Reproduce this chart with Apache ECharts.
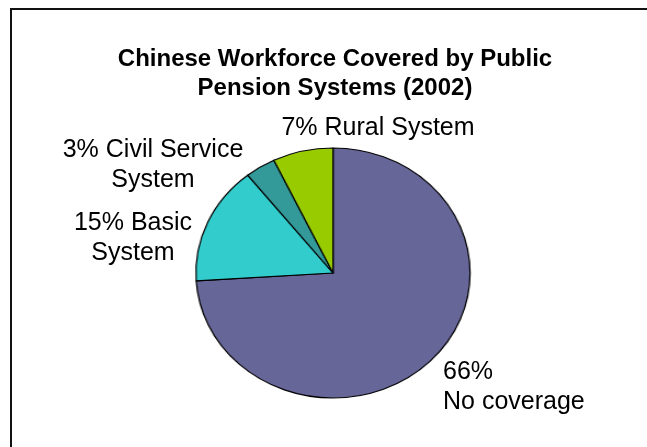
<!DOCTYPE html>
<html>
<head>
<meta charset="utf-8">
<script src="https://cdn.jsdelivr.net/npm/echarts@6/dist/echarts.min.js"></script>
<style>
	html, body { margin: 0; padding: 0; background: #fff; }
	#wrap { position: relative; width: 647px; height: 447px; overflow: hidden; }
	/* the pie in the picture is a bit wider than tall, so it is stretched */
	#pie { position: absolute; left: 0; top: 0; width: 590px; height: 447px; transform-origin: 0 0; transform: scaleX(1.0966); }
	#main { position: absolute; left: 0; top: 0; width: 647px; height: 447px; }
</style>
</head>
<body>
<div id="wrap">
	<div id="pie"></div>
	<div id="main"></div>
</div>
<script>
var categories = ['No coverage', 'Basic System', 'Civil Service System', 'Rural System'];
// printed percentages
var percents = [66, 15, 3, 7];
// slice sizes as drawn (share of the circle)
var shares = [74.0, 15.3, 3.6, 7.1];
var labelTexts = ['66%\nNo coverage', '15% Basic\nSystem', '3% Civil Service\nSystem', '7% Rural System'];
var colors = ['#666699', '#33cccc', '#339999', '#99cc00'];

// label placement (x, top y, alignment)
var labelX = [443, 133, 153, 378];
var labelY = [357, 208, 135, 113];
var labelAlign = ['left', 'center', 'center', 'center'];

var sx = 1.0966;

function pieData(transparent) {
	var data = [];
	for (var i = 0; i < categories.length; i++) {
		data.push({
			name: categories[i],
			value: shares[i],
			itemStyle: transparent ? { color: 'rgba(0,0,0,0)', borderWidth: 0 } : { color: colors[i] }
		});
	}
	return data;
}

var pieChart = echarts.init(document.getElementById('pie'));
pieChart.setOption({
	animation: false,
	series: [{
		type: 'pie',
		center: [333 / sx, 273],
		radius: 125,
		startAngle: 90,
		clockwise: true,
		silent: true,
		label: { show: false },
		labelLine: { show: false },
		itemStyle: { borderColor: '#000', borderWidth: 1.2 },
		data: pieData(false)
	}]
});

var myChart = echarts.init(document.getElementById('main'));
myChart.setOption({
	animation: false,
	title: {
		text: 'Chinese Workforce Covered by Public\nPension Systems (2002)',
		left: 330,
		top: 40,
		textAlign: 'center',
		textStyle: {
			fontFamily: 'Liberation Sans',
			fontSize: 24,
			fontWeight: 'bold',
			lineHeight: 29,
			color: '#000'
		}
	},
	graphic: [{
		type: 'rect',
		shape: { x: 11, y: 9, width: 700, height: 500 },
		style: { fill: 'none', stroke: '#111', lineWidth: 2 },
		silent: true
	}],
	series: [{
		type: 'pie',
		center: [333, 273],
		radius: 125,
		startAngle: 90,
		silent: true,
		label: {
			show: true,
			formatter: function(p) { return labelTexts[p.dataIndex]; },
			fontFamily: 'Liberation Sans',
			fontSize: 25,
			lineHeight: 30,
			color: '#000',
			overflow: 'none',
			width: 300
		},
		labelLine: { show: false },
		labelLayout: function(params) {
			var i = params.dataIndex;
			return { x: labelX[i], y: labelY[i], align: labelAlign[i], verticalAlign: 'top' };
		},
		data: pieData(true)
	}]
});
</script>
</body>
</html>
